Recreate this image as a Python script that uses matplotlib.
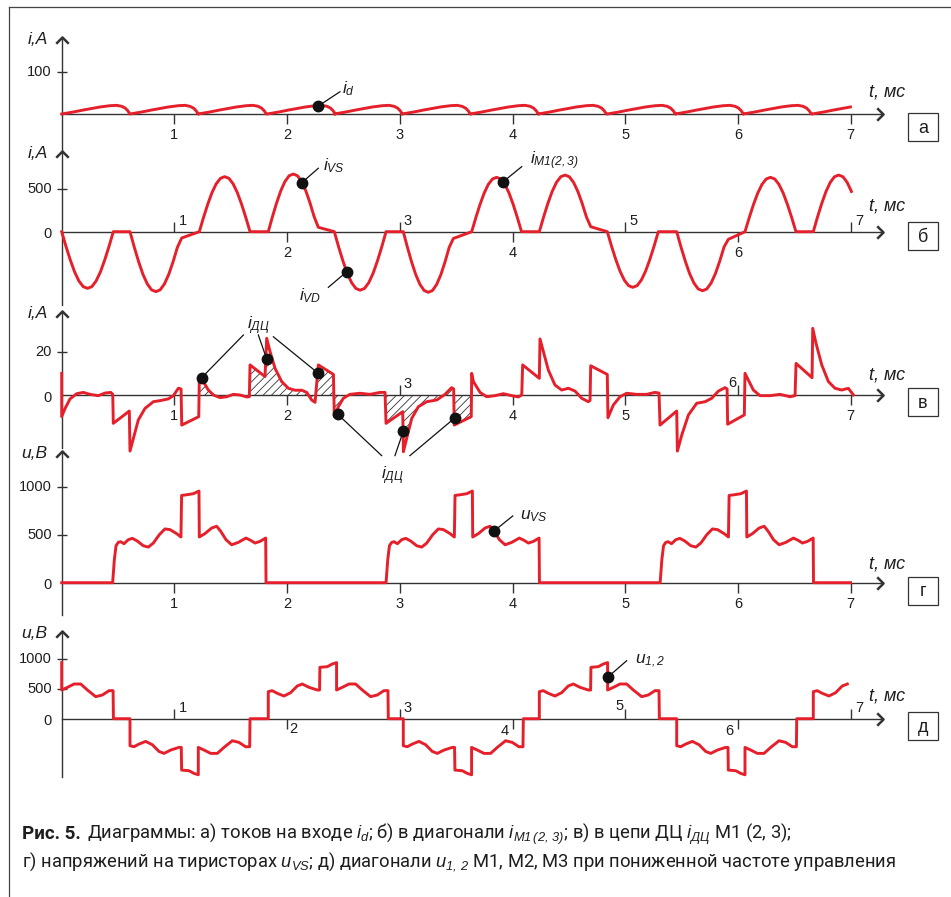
import numpy as np
import matplotlib
matplotlib.use('Agg')
import matplotlib.pyplot as plt
from matplotlib.path import Path
from matplotlib.markers import TICKDOWN, TICKUP
from matplotlib.lines import Line2D
from matplotlib.patches import Rectangle

W, H = 951, 897
X0, PX_MS = 61.7, 112.7      # pixel of t = 0 and pixels per ms
LEFT, RIGHT = 10, 945
T_TIP = 7.29                 # end of the t axis arrow

RED = '#e5202b'
AX_C = '#333333'
TXT_C = '#1e1e1e'

plt.rcParams['font.family'] = ['Liberation Sans', 'DejaVu Sans']
plt.rcParams['mathtext.fontset'] = 'custom'
plt.rcParams['mathtext.rm'] = 'Liberation Sans:italic'
plt.rcParams['mathtext.it'] = 'Liberation Sans:italic'
plt.rcParams['mathtext.bf'] = 'Liberation Sans:bold'
plt.rcParams['hatch.linewidth'] = 0.6
plt.rcParams['hatch.color'] = '#333333'

# ---------------- data (t in ms) ----------------
# а) input current i_d : one period shape + period starts
a_starts = [0.0, 0.606, 1.210, 1.822, 2.417, 3.020, 3.624, 4.227, 4.840, 5.443, 6.046, 6.658]
a_dt = [0, 0.104, 0.192, 0.340, 0.429, 0.488, 0.532, 0.562, 0.586, 0.606]
a_val = [0, 4.8, 9.5, 16.7, 19.8, 20.6, 18.3, 14.3, 7.9, 0]

# б) diagonal current: half-wave humps
hump_shape = [0, 0.26, 0.5, 0.71, 0.87, 0.97, 1.0, 0.97, 0.87, 0.71, 0.5, 0.26, 0.0]
b_start = [0.000, 0.606, 1.221, 1.833, 2.419, 3.031, 3.638, 4.238, 4.841, 5.457, 6.063, 6.669]
b_end = [0.458, 1.065, 1.671, 2.277, 2.878, 3.475, 4.080, 4.694, 5.294, 5.915, 6.515, 7.120]
b_peak = [-668, -707, 649, 680, -690, -715, 641, 668, -656, -696, 641, 668]
b_tail = [0, -74, 0, 52, 0, -80, 0, 59, 0, -90, 0, 0]

# в) i_ДЦ
v_t = [0, 0, 0.030, 0.074, 0.133, 0.192, 0.251, 0.325, 0.385, 0.435, 0.453,
       0.458, 0.600, 0.606, 0.636, 0.680, 0.739, 0.813, 0.873, 0.902, 0.946, 0.991, 1.035, 1.059,
       1.065, 1.216, 1.221, 1.257, 1.301, 1.346, 1.405, 1.464, 1.523, 1.582, 1.641, 1.665,
       1.671, 1.804, 1.819, 1.849, 1.893, 1.952, 2.011, 2.070, 2.130, 2.174, 2.218, 2.248,
       2.277, 2.411, 2.419, 2.455, 2.499, 2.558, 2.647, 2.736, 2.825, 2.869,
       2.878, 3.026, 3.032, 3.061, 3.106, 3.165, 3.239, 3.328, 3.401, 3.460, 3.478,
       3.483, 3.634, 3.638, 3.653, 3.712, 3.771, 3.845, 3.919, 3.993, 4.052, 4.082,
       4.090, 4.238, 4.244, 4.274, 4.318, 4.377, 4.436, 4.496, 4.555, 4.614, 4.673, 4.688,
       4.694, 4.841, 4.847, 4.895, 4.954, 5.013, 5.101, 5.190, 5.264, 5.300,
       5.309, 5.457, 5.463, 5.502, 5.561, 5.635, 5.709, 5.768, 5.827, 5.886, 5.904,
       5.909, 6.057, 6.063, 6.093, 6.137, 6.196, 6.285, 6.374, 6.462, 6.507,
       6.516, 6.658, 6.664, 6.693, 6.744, 6.803, 6.862, 6.921, 6.980, 7.025]
v_val = [10.0, -10.0, -6.2, -1.8, 0.6, 1.2, 0.3, -0.3, 0.9, 1.2, 0.3,
         -13.1, -7.4, -25.9, -20.0, -11.5, -6.2, -3.1, -2.6, -2.3, -1.8, -0.3, 3.1, 2.8,
         -13.9, -10.0, 7.4, 6.2, 2.3, 0.0, -1.2, -0.8, 0.3, 0.0, -0.9, -0.8,
         13.9, 8.5, 26.2, 20.0, 12.3, 6.2, 3.1, 2.2, 2.2, 1.2, -2.3, -3.4,
         13.9, 9.5, -10.0, -5.4, -1.5, 0.3, 0.8, 0.3, 1.2, 1.2,
         -13.1, -7.7, -26.2, -20.0, -10.8, -5.4, -3.1, -2.3, 0.3, 3.4, 2.8,
         -13.9, -10.0, 10.0, 6.2, 1.2, -0.8, -0.3, 0.6, -0.3, -0.9, 0.0,
         13.9, 7.7, 25.9, 20.0, 11.5, 4.6, 2.3, 3.1, 1.8, -1.5, -3.1, -2.5,
         13.5, 9.5, -10.5, -4.6, -0.8, 0.8, 0.3, 0.3, 1.2, 0.9,
         -13.9, -7.4, -25.9, -18.5, -9.2, -3.8, -3.1, -1.5, 1.8, 3.4, 2.8,
         -13.5, -9.2, 10.0, 6.9, 2.3, -0.3, -0.3, 0.3, -0.8, -0.3,
         14.6, 8.0, 30.8, 23.9, 13.9, 6.2, 3.1, 2.3, 3.1, 0.0]
v_hatch = [(1.221, 1.35), (1.671, 2.415), (2.419, 2.52), (2.878, 3.636)]

# г) thyristor voltage u_VS : pulse shape + pulse starts
g_starts = [0.452, 2.878, 5.310]
g_dt = [0, 0.015, 0.030, 0.050, 0.071, 0.101, 0.139, 0.175, 0.219, 0.272, 0.317, 0.361,
        0.414, 0.464, 0.509, 0.568, 0.606, 0.612, 0.657, 0.716, 0.766, 0.769, 0.819, 0.879,
        0.923, 0.959, 1.006, 1.056, 1.115, 1.183, 1.225, 1.263, 1.307, 1.358, 1.361]
g_val = [0, 238, 385, 420, 427, 406, 448, 462, 434, 385, 371, 413,
         500, 560, 553, 511, 476, 909, 916, 927, 955, 476, 511, 570,
         588, 535, 448, 395, 420, 465, 441, 413, 430, 465, 0]

# д) diagonal voltage u_1,2 : alternating pulses
d_starts = [-0.606, 0.606, 1.833, 3.031, 4.238, 5.457, 6.669]
d_sign = [1, -1, 1, -1, 1, -1, 1]
d_dt = [0, 0, 0.035, 0.080, 0.139, 0.198, 0.257, 0.302, 0.361, 0.435, 0.455, 0.458, 0.524,
        0.568, 0.606, 0.606, 0.657, 0.716, 0.775, 0.834, 0.908, 0.967, 1.026, 1.062, 1.065]
d_val = [0, 455, 472, 427, 382, 438, 551, 584, 528, 483, 483, 865, 876,
         921, 944, 483, 528, 584, 584, 483, 371, 399, 472, 472, 0]

# ---------------- layout of panels (pixels) ----------------
panels = {
    'a': dict(top=8, bottom=150, zero=114.0, scale=0.42, tip=37, ybot=150),
    'b': dict(top=150, bottom=305, zero=231.7, scale=0.0848, tip=151, ybot=305),
    'v': dict(top=305, bottom=455, zero=395.0, scale=2.165, tip=311, ybot=448),
    'g': dict(top=455, bottom=625, zero=582.7, scale=0.096, tip=451, ybot=615),
    'd': dict(top=625, bottom=790, zero=718.7, scale=0.0594, tip=631, ybot=777),
}
y_names = {'a': 'i,A', 'b': 'i,A', 'v': 'i,A', 'g': 'u,B', 'd': 'u,B'}
y_ticks = {'a': [100], 'b': [0, 500], 'v': [0, 20], 'g': [0, 500, 1000], 'd': [0, 500, 1000]}
x_side = {'a': 'bbbbbbb', 'b': 'abababa', 'v': 'bbabbab', 'g': 'bbbbbbb', 'd': 'abababa'}
x_lab = {'a': ['c'] * 7,
         'b': ['ra', 'c', 'ra', 'c', 'ra', 'c', 'ra'],
         'v': ['c', 'c', 'ra', 'c', 'c', 'la', 'c'],
         'g': ['c'] * 7,
         'd': ['ra', 'rb', 'ra', 'lb', 'la', 'lb', 'ra']}
t_name_dy = {'a': 22, 'b': 26, 'v': 20, 'g': 19, 'd': 23}
letters = {'a': 'а', 'b': 'б', 'v': 'в', 'g': 'г', 'd': 'д'}
box_top = {'a': 113, 'b': 222, 'v': 388, 'g': 577, 'd': 712}

# offsets (points) and alignment of x tick labels
LAB_POS = {'c': (0, -15, 'center', 'center'),
           'ra': (3, 8, 'left', 'center'),
           'la': (-1, 9, 'right', 'center'),
           'rb': (1.5, -7.5, 'left', 'center'),
           'lb': (-3, -9, 'right', 'center')}

# annotation markers: dot (t, value), leader end, label position, text
notes = {
    'a': [((2.277, 19), (2.469, 53), (2.49, 60), r'$i_d$')],
    'b': [((2.13, 578), (2.277, 748), (2.32, 775), r'$i_{VS}$'),
          ((2.529, -472), (2.366, -656), (2.11, -759), r'$i_{VD}$'),
          ((3.918, 590), (4.082, 767), (4.155, 834), r'$i_{M1(2,3)}$')],
    'g': [((3.836, 538), (4.002, 695), (4.066, 690), r'$u_{VS}$')],
    'd': [((4.85, 707), (5.013, 976), (5.086, 963), r'$u_{1,2}$')],
}
v_up_dots = [(1.242, 8.0), (1.819, 16.6), (2.277, 10.0)]
v_up_leads = [(1.612, 27.7), (1.745, 27.7), (1.878, 26.9)]
v_up_label = (1.75, 31.9)
v_dn_dots = [(2.449, -8.9), (3.032, -16.6), (3.49, -10.5)]
v_dn_leads = [(2.839, -28.0), (2.957, -28.0), (3.09, -28.0)]
v_dn_label = (2.935, -37.4)


def repeat_shape(starts, dt, val, t_end, signs=None):
    if signs is None:
        signs = [1] * len(starts)
    t = np.concatenate([s + np.asarray(dt) for s in starts])
    v = np.concatenate([sg * np.asarray(val, dtype=float) for sg in signs])
    keep = (t >= 0) & (t <= t_end)
    return t[keep], v[keep]


def make_panel(p):
    ax = fig.add_axes([LEFT / W, 1 - p['bottom'] / H, (RIGHT - LEFT) / W,
                       (p['bottom'] - p['top']) / H])
    ax.set_xlim((LEFT - X0) / PX_MS, (RIGHT - X0) / PX_MS)
    ax.set_ylim((p['zero'] - p['bottom']) / p['scale'], (p['zero'] - p['top']) / p['scale'])
    ax.axis('off')
    return ax


CHEV_R = Path([(-1, 1), (0, 0), (-1, -1)], [Path.MOVETO, Path.LINETO, Path.LINETO])
CHEV_U = Path([(-1, -1), (0, 0), (1, -1)], [Path.MOVETO, Path.LINETO, Path.LINETO])


def draw_frame(ax, key):
    p = panels[key]
    v_tip = (p['zero'] - p['tip']) / p['scale']
    v_bot = (p['zero'] - p['ybot']) / p['scale']
    # axes with arrow heads
    ax.plot([0, 0], [v_bot, v_tip], color=AX_C, lw=1.0, clip_on=False, zorder=2)
    ax.plot([0], [v_tip], marker=CHEV_U, ms=9, mew=1.8, mfc='none', mec=AX_C,
            clip_on=False, zorder=2)
    ax.plot([0, T_TIP], [0, 0], color=AX_C, lw=1.0, clip_on=False, zorder=2)
    ax.plot([T_TIP], [0], marker=CHEV_R, ms=9, mew=1.8, mfc='none', mec=AX_C,
            clip_on=False, zorder=2)
    # x ticks
    for i, side in enumerate(x_side[key]):
        t = i + 1
        ax.plot([t], [0], marker=TICKDOWN if side == 'b' else TICKUP, ms=7, mew=1.0,
                color=AX_C, clip_on=False, zorder=2)
        dx, dy, ha, va = LAB_POS[x_lab[key][i]]
        ax.annotate(str(t), (t, 0), xytext=(dx, dy), textcoords='offset points',
                    ha=ha, va=va, fontsize=10.5, color=TXT_C, annotation_clip=False)
    # y ticks
    for yv in y_ticks[key]:
        if yv != 0:
            ax.plot([0], [yv], marker='_', ms=7, mew=1.0, color=AX_C, clip_on=False)
        ax.annotate(str(yv), (0, yv), xytext=(-7, -2 if yv == 0 else 0),
                    textcoords='offset points', ha='right', va='center',
                    fontsize=10.5, color=TXT_C, annotation_clip=False)
    # axis names
    ax.annotate(y_names[key], (0, v_tip), xytext=(-10, -2), textcoords='offset points',
                ha='right', va='center', fontsize=12.5, style='italic', color=TXT_C,
                annotation_clip=False)
    ax.annotate('t, мс', (7.16, 0), xytext=(0, t_name_dy[key] * 0.72),
                textcoords='offset points', ha='left', va='center', fontsize=13,
                style='italic', color=TXT_C, annotation_clip=False)
    # panel letter in a box
    bx, bw, bh = 908, 30, 28
    by = box_top[key]
    fig.add_artist(Rectangle((bx / W, 1 - (by + bh) / H), bw / W, bh / H,
                             transform=fig.transFigure, fill=False, ec=AX_C, lw=0.9))
    fig.text((bx + bw / 2) / W, 1 - (by + bh / 2 + 1) / H, letters[key], ha='center',
             va='center', fontsize=13, color=TXT_C)


def draw_notes(ax, items):
    for dot, lead, lab, txt in items:
        ax.plot([dot[0], lead[0]], [dot[1], lead[1]], color='#111111', lw=0.9,
                clip_on=False, zorder=4)
        ax.plot([dot[0]], [dot[1]], 'o', ms=7.5, color='#111111', clip_on=False, zorder=5)
        ax.text(lab[0], lab[1], txt, ha='left', va='center', fontsize=12.5, color=TXT_C,
                clip_on=False)


fig = plt.figure(figsize=(W / 100, H / 100), dpi=100)

# outer frame (top and left edges)
fig.add_artist(Line2D([9 / W, 1], [1 - 7 / H, 1 - 7 / H], transform=fig.transFigure,
                      color='#444444', lw=0.9))
fig.add_artist(Line2D([9 / W, 9 / W], [0, 1 - 7 / H], transform=fig.transFigure,
                      color='#444444', lw=0.9))

axs = {k: make_panel(p) for k, p in panels.items()}
for k, ax in axs.items():
    draw_frame(ax, k)

# а
ta, va_ = repeat_shape(a_starts, a_dt, a_val, 7.01)
axs['a'].plot(ta, va_, color=RED, lw=2.1, zorder=3, solid_joinstyle='round')

# б
bt, bv = [], []
n = len(hump_shape) - 1
for s, e, pk, tl in zip(b_start, b_end, b_peak, b_tail):
    for k, h in enumerate(hump_shape):
        bt.append(s + (e - s) * k / n)
        bv.append(pk * h if k < n else tl)
bt, bv = np.array(bt), np.array(bv)
keep = bt <= 7.015
axs['b'].plot(bt[keep], bv[keep], color=RED, lw=2.1, zorder=3, solid_joinstyle='round')

# в
vt, vv = np.array(v_t), np.array(v_val)
for t0, t1 in v_hatch:
    m = (vt >= t0) & (vt <= t1)
    axs['v'].fill_between(vt[m], vv[m], 0, facecolor='none', edgecolor='#333333',
                          hatch='////', lw=0, zorder=1)
axs['v'].plot(vt, vv, color=RED, lw=2.1, zorder=3, solid_joinstyle='round')
for dot, lead in zip(v_up_dots + v_dn_dots, v_up_leads + v_dn_leads):
    axs['v'].plot([dot[0], lead[0]], [dot[1], lead[1]], color='#111111', lw=0.9,
                  clip_on=False, zorder=4)
    axs['v'].plot([dot[0]], [dot[1]], 'o', ms=7.5, color='#111111', clip_on=False, zorder=5)
for pos in (v_up_label, v_dn_label):
    axs['v'].text(pos[0], pos[1], r'$i_{ДЦ}$', ha='center', va='center', fontsize=12.5,
                  color=TXT_C, clip_on=False)

# г
tg, vg = repeat_shape(g_starts, g_dt, g_val, 7.0)
tg = np.concatenate([[0], tg, [7.0]])
vg = np.concatenate([[0], vg, [0]])
axs['g'].plot(tg, vg, color=RED, lw=2.1, zorder=3, solid_joinstyle='round')

# д
td, vd = repeat_shape(d_starts, d_dt, d_val, 7.01, d_sign)
axs['d'].plot(td, vd, color=RED, lw=2.1, zorder=3, solid_joinstyle='round')

for k, items in notes.items():
    draw_notes(axs[k], items)

# caption
renderer = fig.canvas.get_renderer()
cap_head = fig.text(22 / W, 1 - 839 / H, 'Рис. 5.', fontsize=13.5, fontweight='bold',
                    family='Roboto', va='baseline', color=TXT_C)
bb = cap_head.get_window_extent(renderer)
fig.text((bb.x1 + 6) / W, 1 - 839 / H,
         r'Диаграммы: а) токов на входе $i_d$; б) в диагонали $i_{M1\,(2,\,3)}$; '
         r'в) в цепи ДЦ $i_{ДЦ}$ М1 (2, 3);',
         fontsize=13.2, family='Roboto', va='baseline', color=TXT_C)
fig.text(22 / W, 1 - 866 / H,
         r'г) напряжений на тиристорах $u_{VS}$; д) диагонали $u_{1,\,2}$ М1, М2, М3 '
         r'при пониженной частоте управления',
         fontsize=13.2, family='Roboto', va='baseline', color=TXT_C)

fig.savefig('out.png', dpi=100)
